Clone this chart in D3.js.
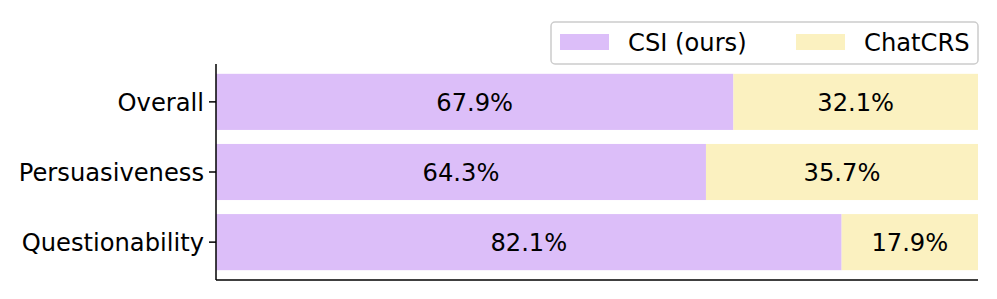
<!DOCTYPE html>
<html lang="en">
<head>
<meta charset="UTF-8">
<title>CSI vs ChatCRS</title>
<script src="https://cdn.jsdelivr.net/npm/d3@7/dist/d3.min.js"></script>
<style>
  body { margin: 0; background: #fff; }
  text { font-family: "DejaVu Sans", sans-serif; fill: #000; }
</style>
</head>
<body>
<div id="app"></div>
<script>
var categories = ["Overall", "Persuasiveness", "Questionability"];
var csi = [67.9, 64.3, 82.1];
var chatcrs = [32.1, 35.7, 17.9];
var seriesNames = ["CSI (ours)", "ChatCRS"];
var colors = ["#dcbef9", "#fbf1c0"];

var width = 997, height = 299;
var margin = { left: 216, top: 64, right: 19, bottom: 19 };
var gw = width - margin.left - margin.right;
var gh = height - margin.top - margin.bottom;
var fs = 24.2;

var svg = d3.select("#app").append("svg")
  .attr("width", width).attr("height", height);

var g = svg.append("g")
  .attr("transform", "translate(" + margin.left + "," + margin.top + ")");

var x = d3.scaleLinear().domain([0, 100]).range([0, gw]);
// matplotlib style: bar height 0.8, 5% margin
var y = d3.scaleLinear().domain([-0.54, 2.54]).range([0, gh]);
var bh = y(0.8) - y(0);

var rows = categories.map(function (c, i) {
  return { cat: c, i: i, vals: [csi[i], chatcrs[i]] };
});

rows.forEach(function (r) {
  var x0 = 0;
  r.vals.forEach(function (v, k) {
    g.append("rect")
      .attr("x", x(x0))
      .attr("y", y(r.i - 0.4))
      .attr("width", x(x0 + v) - x(x0))
      .attr("height", bh)
      .attr("fill", colors[k]);
    g.append("text")
      .attr("x", x(x0 + v / 2))
      .attr("y", y(r.i))
      .attr("dy", "0.36em")
      .attr("text-anchor", "middle")
      .style("font-size", fs + "px")
      .text(v.toFixed(1) + "%");
    x0 += v;
  });
});

// left axis
var yAxis = g.append("g");
yAxis.append("line").attr("x1", 0).attr("x2", 0).attr("y1", 0).attr("y2", gh)
  .attr("stroke", "#000").attr("stroke-width", 1.5);
categories.forEach(function (c, i) {
  yAxis.append("line").attr("x1", -7).attr("x2", 0)
    .attr("y1", y(i)).attr("y2", y(i))
    .attr("stroke", "#000").attr("stroke-width", 1.5);
  yAxis.append("text")
    .attr("x", -12).attr("y", y(i)).attr("dy", "0.36em")
    .attr("text-anchor", "end")
    .style("font-size", fs + "px")
    .text(c);
});
// bottom spine
g.append("line").attr("x1", 0).attr("x2", gw).attr("y1", gh).attr("y2", gh)
  .attr("stroke", "#000").attr("stroke-width", 1.5);

// legend
var lg = svg.append("g").attr("transform", "translate(551,22)");
lg.append("rect").attr("width", 427).attr("height", 42)
  .attr("rx", 4).attr("fill", "#fff").attr("fill-opacity", 0.8)
  .attr("stroke", "#cccccc").attr("stroke-width", 1.5);
var lx = [9, 245];
seriesNames.forEach(function (n, k) {
  lg.append("rect").attr("x", lx[k]).attr("y", 12).attr("width", 49).attr("height", 16)
    .attr("fill", colors[k]);
  lg.append("text").attr("x", lx[k] + 68).attr("y", 20).attr("dy", "0.36em")
    .style("font-size", fs + "px").text(n);
});
</script>
</body>
</html>
